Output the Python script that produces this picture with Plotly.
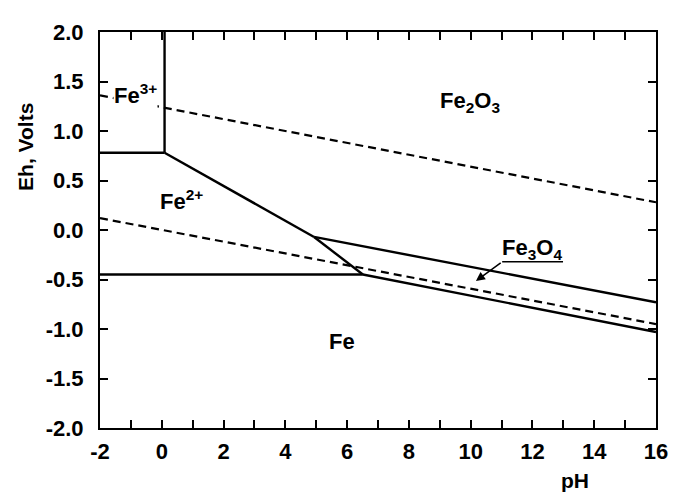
import plotly.graph_objects as go

# ---- data (pH, Eh in volts) ----
x_ticks = list(range(-2, 17))
x_tick_text = [str(v) if v % 2 == 0 else "" for v in x_ticks]
y_ticks = [-2.0, -1.5, -1.0, -0.5, 0.0, 0.5, 1.0, 1.5, 2.0]
y_tick_text = ["-2.0", "-1.5", "-1.0", "-0.5", "0.0", "0.5", "1.0", "1.5", "2.0"]

fe3_fe2o3_ph = [0.09, 0.09]
fe3_fe2o3_eh = [0.78, 2.0]
fe3_fe2_ph = [-2.0, 0.09]
fe3_fe2_eh = [0.78, 0.78]
fe2_fe2o3_ph = [0.09, 4.93]
fe2_fe2o3_eh = [0.78, -0.07]
fe2_fe3o4_ph = [4.93, 6.51]
fe2_fe3o4_eh = [-0.07, -0.45]
fe2_fe_ph = [-2.0, 6.51]
fe2_fe_eh = [-0.45, -0.45]
fe2o3_fe3o4_ph = [4.93, 16.0]
fe2o3_fe3o4_eh = [-0.07, -0.73]
fe3o4_fe_ph = [6.51, 16.0]
fe3o4_fe_eh = [-0.45, -1.03]

o2_h2o_ph = [-2.0, 16.0]
o2_h2o_eh = [1.36, 0.28]
h2o_h2_ph = [-2.0, 16.0]
h2o_h2_eh = [0.12, -0.95]

labels_text = ["Fe<sup>3+</sup>", "Fe<sub>2</sub>O<sub>3</sub>", "Fe<sup>2+</sup>", "Fe"]
labels_ph = [-0.86, 9.97, 0.64, 5.84]
labels_eh = [1.37, 1.29, 0.30, -1.13]

fe3o4_label = "Fe<sub>3</sub>O<sub>4</sub>"
fe3o4_label_ph = 11.98
fe3o4_label_eh = -0.19
fe3o4_underline_ph = [11.02, 12.99]
fe3o4_underline_eh = -0.32
fe3o4_arrow_tip_ph = 10.17
fe3o4_arrow_tip_eh = -0.515

FONT = "Liberation Sans, Arial, sans-serif"

fig = go.Figure()

solid = [
    (fe3_fe2o3_ph, fe3_fe2o3_eh),
    (fe3_fe2_ph, fe3_fe2_eh),
    (fe2_fe2o3_ph, fe2_fe2o3_eh),
    (fe2_fe3o4_ph, fe2_fe3o4_eh),
    (fe2_fe_ph, fe2_fe_eh),
    (fe2o3_fe3o4_ph, fe2o3_fe3o4_eh),
    (fe3o4_fe_ph, fe3o4_fe_eh),
]
for px, py in solid:
    fig.add_trace(go.Scatter(x=px, y=py, mode="lines",
                             line=dict(color="black", width=2.4),
                             showlegend=False, hoverinfo="skip"))
for px, py in [(o2_h2o_ph, o2_h2o_eh), (h2o_h2_ph, h2o_h2_eh)]:
    fig.add_trace(go.Scatter(x=px, y=py, mode="lines",
                             line=dict(color="black", width=2.2, dash="8px,5px"),
                             showlegend=False, hoverinfo="skip"))

for t, px, py in zip(labels_text, labels_ph, labels_eh):
    fig.add_annotation(x=px, y=py, text="<b>" + t + "</b>", showarrow=False,
                       xanchor="center", yanchor="middle",
                       font=dict(family=FONT, size=22, color="black"),
                       bgcolor="white" if "3+" in t else None, borderpad=0)

fig.add_annotation(x=fe3o4_label_ph, y=fe3o4_label_eh, text="<b>" + fe3o4_label + "</b>",
                   showarrow=False, xanchor="center", yanchor="middle",
                   font=dict(family=FONT, size=22, color="black"))
fig.add_shape(type="line", x0=fe3o4_underline_ph[0], x1=fe3o4_underline_ph[1],
              y0=fe3o4_underline_eh, y1=fe3o4_underline_eh,
              line=dict(color="black", width=1.5))
fig.add_annotation(x=fe3o4_arrow_tip_ph, y=fe3o4_arrow_tip_eh,
                   ax=fe3o4_underline_ph[0], ay=fe3o4_underline_eh,
                   axref="x", ayref="y", xref="x", yref="y",
                   text="", showarrow=True, arrowhead=2, arrowsize=1.2,
                   arrowwidth=1.5, arrowcolor="black")

# axis titles
fig.add_annotation(xref="paper", yref="paper", x=-0.134, y=0.711,
                   xanchor="center", yanchor="middle",
                   text="<b>Eh, Volts</b>", textangle=-90, showarrow=False,
                   font=dict(family=FONT, size=21, color="black"))
fig.add_annotation(xref="paper", yref="paper", x=0.854, y=-0.132,
                   xanchor="center", yanchor="middle",
                   text="<b>pH</b>", showarrow=False,
                   font=dict(family=FONT, size=21, color="black"))

axis_common = dict(showgrid=False, zeroline=False, showline=True, linecolor="black",
                   linewidth=2, mirror="ticks", ticks="inside", ticklen=8,
                   tickwidth=2, tickcolor="black",
                   tickfont=dict(family=FONT, size=22, color="black"))

fig.update_xaxes(range=[-2, 16], tickvals=x_ticks, ticklabelstandoff=3,
                 ticktext=["<b>" + s + "</b>" for s in x_tick_text], **axis_common)
fig.update_yaxes(range=[-2, 2], tickvals=y_ticks, ticklabelstandoff=10,
                 ticktext=["<b>" + s + "</b>" for s in y_tick_text], **axis_common)

# page body has an 8px margin, so the figure is sized to fit the 680x496 window
fig.update_layout(width=672, height=488, plot_bgcolor="white", paper_bgcolor="white",
                  margin=dict(l=92, r=13, t=15, b=68), showlegend=False)

fig.write_html("out.html")
